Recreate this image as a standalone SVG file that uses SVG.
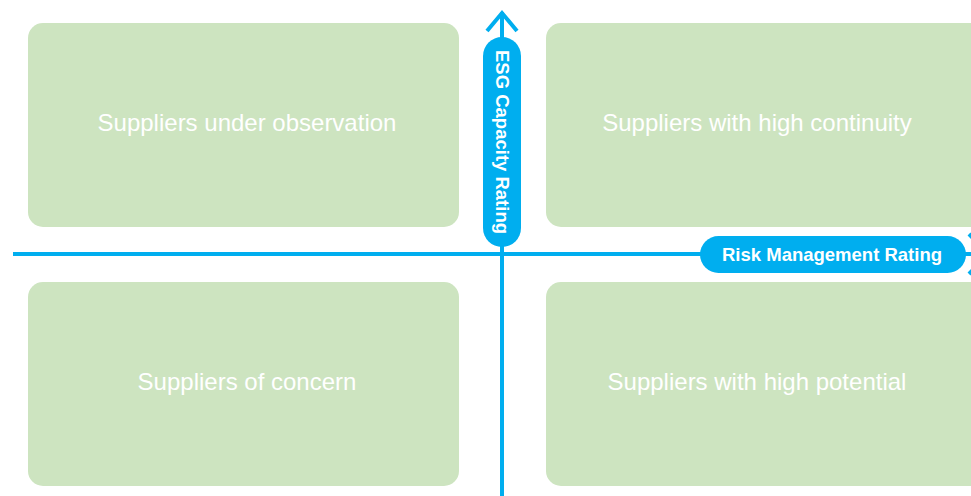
<svg xmlns="http://www.w3.org/2000/svg" width="971" height="496" viewBox="0 0 971 496">
<style>
.box{fill:#cde4c0}
.bt{fill:#ffffff;font-family:"Liberation Sans",Arial,sans-serif;font-size:24px;text-anchor:middle}
.ax{stroke:#00aeef;stroke-width:4;fill:none}
.pill{fill:#00aeef}
.pt{fill:#ffffff;font-family:"Liberation Sans",Arial,sans-serif;font-size:18.5px;font-weight:bold;text-anchor:middle}
</style>
<rect width="971" height="496" fill="#ffffff"/>
<g id="connectors">
<line class="ax" x1="13" y1="254" x2="990" y2="254"/>
<line class="ax" x1="502" y1="12" x2="502" y2="496"/>
<polyline class="ax" points="487,31 502,13 517,31"/>
<polyline class="ax" points="969,234 988,254 969,274"/>
</g>
<g id="q-observation">
<rect class="box" x="28" y="23" width="431" height="204" rx="15"/>
<text class="bt" x="247" y="131">Suppliers under observation</text>
</g>
<g id="q-continuity">
<rect class="box" x="546" y="23" width="440" height="204" rx="15"/>
<text class="bt" x="757" y="131">Suppliers with high continuity</text>
</g>
<g id="q-concern">
<rect class="box" x="28" y="282" width="431" height="204" rx="15"/>
<text class="bt" x="247" y="390">Suppliers of concern</text>
</g>
<g id="q-potential">
<rect class="box" x="546" y="282" width="440" height="204" rx="15"/>
<text class="bt" x="757" y="390">Suppliers with high potential</text>
</g>
<g id="esg-label">
<rect class="pill" x="483" y="37" width="38" height="210" rx="19"/>
<text class="pt" transform="translate(495.5,142) rotate(90)" x="0" y="0">ESG Capacity Rating</text>
</g>
<g id="risk-label">
<rect class="pill" x="700" y="236" width="266" height="37" rx="18.5"/>
<text class="pt" x="832" y="260.5">Risk Management Rating</text>
</g>
</svg>
